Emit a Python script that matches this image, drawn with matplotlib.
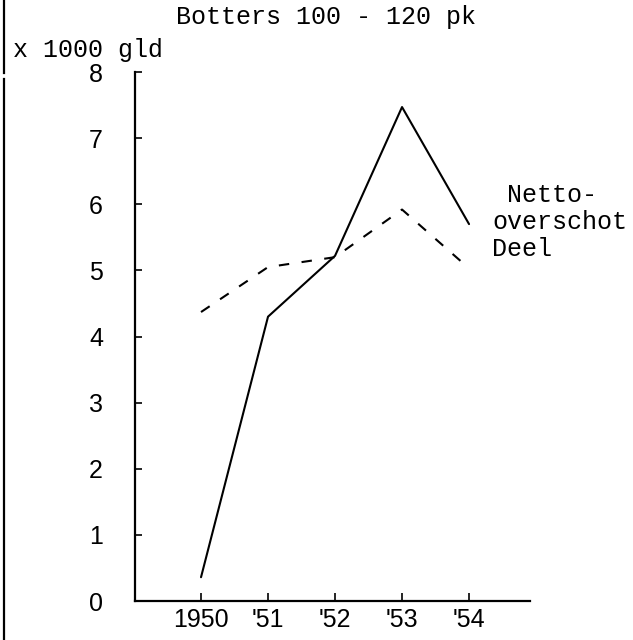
import matplotlib
matplotlib.use('Agg')
import matplotlib.pyplot as plt
from matplotlib.lines import Line2D

# ---------------------
# Data (x 1000 gld)
# ---------------------
years = ['1950', "'51", "'52", "'53", "'54"]
netto_overschot = [0.36, 4.3, 5.22, 7.47, 5.7]
deel = [4.37, 5.05, 5.2, 5.92, 5.03]
y_ticks = [0, 1, 2, 3, 4, 5, 6, 7, 8]

mono = 'Liberation Mono'
sans = 'Liberation Sans'

fig = plt.figure(figsize=(6.33, 6.4), dpi=100)
ax = fig.add_axes([0.2133, 0.0609, 0.624, 0.8266])

x = list(range(len(years)))
ax.plot(x, netto_overschot, color='black', lw=1.5, solid_capstyle='round')
ax.plot(x, deel, color='black', lw=1.5, dashes=(5, 6))

ax.set_xlim(-0.985, 4.91)
ax.set_ylim(0, 8)

ax.set_xticks(x)
ax.set_xticklabels(years, fontfamily=sans, fontsize=18)
ax.set_yticks(y_ticks)
ax.set_yticklabels([str(v) for v in y_ticks], fontfamily=sans, fontsize=18)

ax.tick_params(axis='y', direction='in', length=5, width=1.2, pad=23)
ax.tick_params(axis='x', direction='in', length=6, width=1.2, pad=5)

for side in ['top', 'right']:
    ax.spines[side].set_visible(False)
for side in ['left', 'bottom']:
    ax.spines[side].set_linewidth(1.6)

# Typed labels
fig.text(0.515, 0.973, 'Botters 100 - 120 pk', fontfamily=mono, fontsize=18,
         ha='center', va='center')
fig.text(0.02, 0.922, 'x 1000 gld', fontfamily=mono, fontsize=18,
         ha='left', va='center')
fig.text(0.778, 0.653, ' Netto-\noverschot\nDeel', fontfamily=mono, fontsize=18,
         ha='left', va='center', linespacing=1.15)

# Margin line along the left edge
fig.add_artist(Line2D([0.007, 0.007], [1.0, 0.886], color='black', lw=1.6))
fig.add_artist(Line2D([0.007, 0.007], [0.876, 0.0], color='black', lw=1.6))

fig.savefig('out.png', dpi=100)
